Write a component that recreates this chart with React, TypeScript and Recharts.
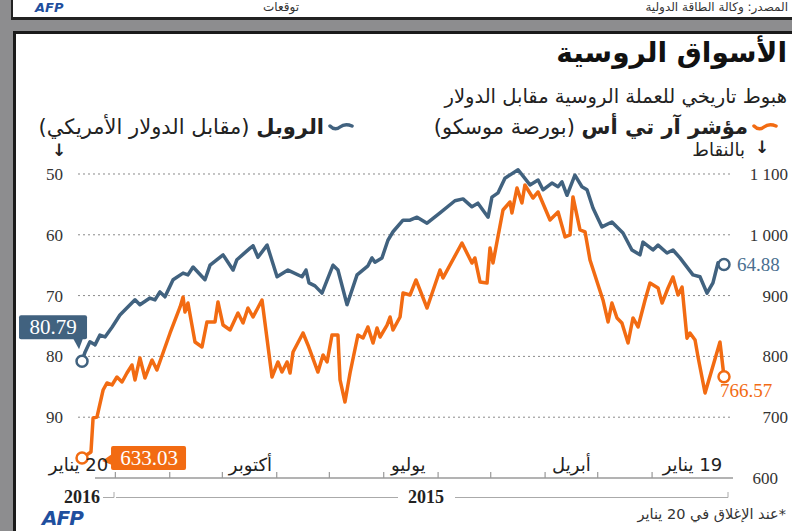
import { LineChart, Line, XAxis, YAxis, ReferenceLine } from "recharts";

// days counted from 19 Jan 2015 (right edge) to 20 Jan 2016 (left edge)
const rubleDays = [
  0, 3.4, 6.3, 9.7, 13.7, 17.7, 25.1, 29.1, 32.5, 37.6, 40.5, 46.2, 47.9, 52.5,
  57.6, 63.9, 69.6, 74.7, 78.1, 81, 85, 89.5, 92.4, 94.6, 98.1, 103.2, 106,
  110.6, 117.4, 124.9, 128.8, 132.3, 134.5, 140.3, 143.7, 148.8, 153.4, 161.9,
  169.3, 175, 179, 183, 188.7, 191.6, 195, 199, 200.7, 203, 209.2, 214.9, 220.1,
  222.9, 229.2, 233.2, 236.6, 238.3, 240.6, 248.6, 254.8, 260.5, 265.7, 268.5,
  270.2, 277.7, 279.9, 285.6, 293, 295.9, 302.7, 305.6, 308.4, 314.1, 318.7,
  321.6, 324.4, 327.3, 333, 335.8, 344.4, 348.9, 352.9, 355.8, 358.6, 361.5,
  364.3, 366,
];
const rubleValues = [
  64.88, 64.6, 67.9, 69.6, 66.9, 66.6, 63.8, 62.5, 63.0, 61.7, 62.5, 61.2, 63.3,
  62.5, 59.7, 57.9, 58.7, 55.6, 52.6, 52.1, 50.2, 53.5, 51.3, 52.1, 51.5, 52.6,
  51.0, 51.8, 49.3, 50.7, 53.1, 53.8, 57.1, 54.8, 55.4, 54.1, 54.4, 56.4, 58.1,
  57.1, 57.6, 57.6, 59.5, 60.9, 63.8, 64.5, 63.8, 65.1, 66.6, 71.5, 65.8, 65.0,
  69.6, 68.4, 67.9, 65.8, 66.9, 65.8, 66.9, 61.7, 63.7, 61.8, 62.2, 64.1, 65.8,
  63.3, 65.0, 67.4, 65.3, 66.6, 66.3, 67.4, 70.2, 69.4, 70.7, 70.4, 71.5, 70.7,
  73.2, 75.2, 76.8, 76.5, 78.1, 77.6, 79.3, 80.79,
];

const rtsDays = [
  0, 2.3, 10.8, 14.8, 16.5, 19.4, 21.1, 23.9, 26.2, 29.1, 31.9, 35.3, 37.6, 42.2,
  45, 49, 51.9, 54.7, 58.2, 61, 63.9, 66.1, 69, 76.4, 79.2, 82.1, 86.1, 87.8,
  90.6, 94.6, 99.2, 106, 108.9, 113.5, 115.2, 118, 120.9, 122, 126, 131.7, 133.4,
  135.1, 139.1, 142, 143.7, 149.4, 160.2, 161.9, 169.3, 175.6, 179, 183, 184.7,
  188.7, 190.4, 192.1, 196.1, 197.8, 200.1, 203, 205.8, 208.7, 213.2, 216.1,
  218.9, 220.1, 223.5, 226.3, 228.6, 231.5, 237.2, 240, 245.7, 247.4, 249.1, 252,
  254.3, 257.7, 263.4, 268.5, 271.4, 274.2, 277.1, 281.6, 285.6, 288.5, 290.2,
  294.8, 297.6, 301.6, 305.6, 307.3, 308.4, 310.1, 315.8, 323.3, 326.1, 330.1,
  333, 335.8, 337.5, 340.4, 343.2, 346.1, 348.9, 351.8, 354, 357.5, 359.7, 360.9,
  366,
];
const rtsValues = [
  766.57, 823.7, 739.8, 799, 827, 838.5, 830, 914, 901, 930.6, 912.5, 887.8,
  912.5, 920.7, 892.8, 848.4, 863.2, 822, 855, 863.2, 887.8, 856.6, 892.8, 958.6,
  1004.6, 1007.9, 1062.2, 999.7, 996.4, 1037.5, 1024.3, 1070.4, 1060.5, 1081.9,
  1052.3, 1077, 1035.9, 1053.9, 1040.8, 953.6, 978.3, 920.7, 922.4, 961.8, 953.6,
  986.5, 929, 942.1, 879.6, 925.7, 901, 904.3, 864.8, 843.4, 864.8, 851.6, 831.9,
  846.7, 822, 848.4, 830.3, 835.2, 772.7, 725, 761.2, 835.2, 835.2, 790.8, 802.3,
  774.3, 818.8, 838.5, 807.2, 772.7, 790.8, 774.3, 790.8, 766.1, 892.8, 864.8,
  879.6, 855, 871.4, 843.4, 851.6, 889.5, 856.6, 856.6, 815.5, 823.7, 887.8, 873,
  897.7, 881.3, 838.5, 777.6, 794.1, 764.5, 797.4, 761.2, 785.9, 772.7, 757.9,
  766.1, 753, 756.3, 744.7, 700.3, 698.7, 642.8, 633.03,
];

const leftTicks = [50, 60, 70, 80, 90];
const rightTicks = [600, 700, 800, 900, 1000, 1100];
const monthTickDays = [41, 72, 102, 133, 163, 194, 225, 255, 286, 316, 347];
const monthLabelDays = [18, 87, 180, 270, 368];
const monthLabels = ["19 يناير", "أبريل", "يوليو", "أكتوبر", "20 يناير"];

const BLUE = "#41627f";
const ORANGE = "#f26b12";
const sans = "'DejaVu Sans', sans-serif";
const serif = "'Liberation Serif', 'DejaVu Serif', serif";

const rubleData = rubleDays.map((d, i) => ({ day: d, ruble: rubleValues[i] }));
const rtsData = rtsDays.map((d, i) => ({ day: d, rts: rtsValues[i] }));

const fmtPoints = (v: number) =>
  v >= 1000 ? `${Math.floor(v / 1000)} ${String(v % 1000).padStart(3, "0")}` : String(v);

const LeftTick = ({ x, y, payload }: any) => (
  <text x={x - 15} y={y + 6} textAnchor="end" fontFamily={serif} fontSize={17} fill="#333">
    {payload.value}
  </text>
);

const RightTick = ({ x, y, payload }: any) => (
  <text
    x={payload.value === 600 ? x + 45 : x + 55}
    y={y + 6}
    textAnchor="end"
    fontFamily={serif}
    fontSize={17}
    fill="#333"
  >
    {fmtPoints(payload.value)}
  </text>
);

const MonthTick = ({ x, y, payload }: any) => {
  const li = monthLabelDays.indexOf(payload.value);
  if (li >= 0) {
    return (
      <text x={x} y={y - 7} textAnchor="middle" direction="rtl" fontFamily={sans} fontSize={18} fill="#222">
        {monthLabels[li]}
      </text>
    );
  }
  return <line x1={x} x2={x} y1={y} y2={y - 6} stroke="#999" strokeWidth={1.2} />;
};

const endCircle = (cx: number, cy: number, color: string) => (
  <circle cx={cx} cy={cy} r={5.5} fill="#fff" stroke={color} strokeWidth={2.5} />
);

const rubleDot = (p: any) => {
  const { cx, cy, index } = p;
  const last = rubleValues.length - 1;
  if (index === 0) {
    return (
      <g key="rdot-first">
        {endCircle(cx, cy, BLUE)}
        <text x={cx + 13} y={cy + 7} fontFamily={serif} fontSize={19} fill="#4a6f90">
          {rubleValues[0].toFixed(2)}
        </text>
      </g>
    );
  }
  if (index === last) {
    return (
      <g key="rdot-last">
        <rect x={cx - 63} y={cy - 46} width={68} height={24} rx={2} fill={BLUE} />
        <path d={`M${cx - 9},${cy - 23} L${cx + 1},${cy - 23} L${cx - 3},${cy - 12} Z`} fill={BLUE} />
        {endCircle(cx, cy, BLUE)}
        <text x={cx - 29} y={cy - 27} textAnchor="middle" fontFamily={serif} fontSize={21} fill="#fff">
          {rubleValues[last].toFixed(2)}
        </text>
      </g>
    );
  }
  return <g key={`rdot-${index}`} />;
};

const rtsDot = (p: any) => {
  const { cx, cy, index } = p;
  const last = rtsValues.length - 1;
  if (index === 0) {
    return (
      <g key="tdot-first">
        {endCircle(cx, cy, ORANGE)}
        <text x={cx - 4} y={cy + 20} fontFamily={serif} fontSize={19} fill={ORANGE}>
          {rtsValues[0].toFixed(2)}
        </text>
      </g>
    );
  }
  if (index === last) {
    return (
      <g key="tdot-last">
        <rect x={cx + 29} y={cy - 12} width={75} height={24} rx={2} fill={ORANGE} />
        <path d={`M${cx + 30},${cy - 4} L${cx + 30},${cy + 7} L${cx + 20},${cy + 3} Z`} fill={ORANGE} />
        {endCircle(cx, cy, ORANGE)}
        <text x={cx + 67} y={cy + 7} textAnchor="middle" fontFamily={serif} fontSize={21} fill="#fff">
          {rtsValues[last].toFixed(2)}
        </text>
      </g>
    );
  }
  return <g key={`tdot-${index}`} />;
};

const Squiggle = ({ color }: { color: string }) => (
  <svg width={26} height={12} style={{ display: "block" }}>
    <path d="M2,5 Q7,10 12,6 T24,5" fill="none" stroke={color} strokeWidth={3.5} strokeLinecap="round" />
  </svg>
);

export default function App() {
  return (
    <div
      style={{
        position: "absolute",
        left: 0,
        top: 0,
        width: 792,
        height: 531,
        background: "#8d8d8f",
        overflow: "hidden",
        fontFamily: sans,
      }}
    >
      {/* bottom of the previous graphic */}
      <div
        style={{
          position: "absolute",
          left: 11,
          top: -20,
          width: 781,
          height: 37,
          background: "#fff",
          borderLeft: "2px solid #222",
          borderBottom: "3px solid #222",
          overflow: "hidden",
        }}
      >
        <div style={{ position: "absolute", left: 22, top: 20, fontSize: 13, lineHeight: "15px", fontWeight: 700, fontStyle: "italic", color: "#1f4f9e" }}>
          AFP
        </div>
        <div style={{ position: "absolute", left: 250, top: 20, fontSize: 12, lineHeight: "15px", color: "#333" }} dir="rtl">
          توقعات
        </div>
        <div style={{ position: "absolute", right: 6, top: 20, fontSize: 12, lineHeight: "15px", color: "#333" }} dir="rtl">
          المصدر: وكالة الطاقة الدولية
        </div>
      </div>

      {/* main panel */}
      <div
        style={{
          position: "absolute",
          left: 13,
          top: 31,
          width: 800,
          height: 520,
          background: "#fff",
          borderLeft: "3px solid #1a1a1a",
          borderTop: "3px solid #1a1a1a",
        }}
      />

      <div style={{ position: "absolute", left: 0, top: 0 }}>
        <LineChart width={792} height={531} margin={{ top: 160, right: 4, bottom: 23, left: 38 }}>
          <XAxis
            dataKey="day"
            type="number"
            domain={[-5.13, 368.3]}
            reversed
            ticks={[...monthTickDays, ...monthLabelDays]}
            interval={0}
            tick={<MonthTick />}
            tickLine={false}
            axisLine={false}
            tickSize={0}
            tickMargin={0}
            height={30}
          />
          <YAxis
            yAxisId="left"
            orientation="left"
            domain={[47.7, 100]}
            reversed
            ticks={leftTicks}
            interval={0}
            tick={<LeftTick />}
            tickLine={false}
            axisLine={false}
            tickSize={0}
            tickMargin={0}
            width={40}
          />
          <YAxis
            yAxisId="right"
            orientation="right"
            domain={[600, 1123]}
            ticks={rightTicks}
            interval={0}
            tick={<RightTick />}
            tickLine={false}
            axisLine={false}
            tickSize={0}
            tickMargin={0}
            width={55}
          />
          {leftTicks.map((v) => (
            <ReferenceLine key={v} yAxisId="left" y={v} stroke="#8a8a8a" strokeDasharray="2 3" strokeWidth={1} />
          ))}
          <ReferenceLine
            yAxisId="right"
            segment={[
              { x: 358.6, y: 600 },
              { x: -5.13, y: 600 },
            ]}
            stroke="#9a9a9a"
            strokeWidth={1.5}
          />
          <Line
            data={rubleData}
            yAxisId="left"
            dataKey="ruble"
            type="linear"
            stroke={BLUE}
            strokeWidth={3.5}
            strokeLinejoin="round"
            dot={rubleDot}
            activeDot={false}
            isAnimationActive={false}
          />
          <Line
            data={rtsData}
            yAxisId="right"
            dataKey="rts"
            type="linear"
            stroke={ORANGE}
            strokeWidth={3.5}
            strokeLinejoin="round"
            dot={rtsDot}
            activeDot={false}
            isAnimationActive={false}
          />
        </LineChart>
      </div>

      {/* titles and legend */}
      <div dir="rtl" style={{ position: "absolute", right: 5, top: 36, fontSize: 28, fontWeight: 700, color: "#111", lineHeight: "34px" }}>
        الأسواق الروسية
      </div>
      <div dir="rtl" style={{ position: "absolute", right: 5, top: 85, fontSize: 19.5, color: "#222", lineHeight: "24px" }}>
        هبوط تاريخي للعملة الروسية مقابل الدولار
      </div>
      <div dir="rtl" style={{ position: "absolute", right: 14, top: 114, fontSize: 21, color: "#222", lineHeight: "26px", display: "flex", alignItems: "center", gap: 4 }}>
        <Squiggle color={ORANGE} />
        <span>
          <b>مؤشر آر تي أس</b> (بورصة موسكو)
        </span>
      </div>
      <div dir="rtl" style={{ position: "absolute", right: 438, top: 114, fontSize: 21, color: "#222", lineHeight: "26px", display: "flex", alignItems: "center", gap: 4 }}>
        <Squiggle color={BLUE} />
        <span>
          <b>الروبل</b> (مقابل الدولار الأمريكي)
        </span>
      </div>
      <div style={{ position: "absolute", left: 52, top: 141, fontSize: 17, fontWeight: 700, color: "#222", lineHeight: "18px" }}>↓</div>
      <div style={{ position: "absolute", left: 755, top: 138, fontSize: 17, fontWeight: 700, color: "#222", lineHeight: "18px" }}>↓</div>
      <div dir="rtl" style={{ position: "absolute", right: 47, top: 140, fontSize: 18, color: "#222", lineHeight: "20px" }}>
        بالنقاط
      </div>

      {/* year brackets under the time axis */}
      <svg width={792} height={531} style={{ position: "absolute", left: 0, top: 0, pointerEvents: "none" }}>
        <g stroke="#aaa" strokeWidth={1}>
          <line x1={103} x2={114} y1={497.5} y2={497.5} />
          <line x1={114} x2={114} y1={492} y2={497.5} />
          <line x1={116} x2={398} y1={497.5} y2={497.5} />
          <line x1={455} x2={728} y1={497.5} y2={497.5} />
          <line x1={728} x2={728} y1={492} y2={497.5} />
        </g>
        <text x={100} y={503} textAnchor="end" fontFamily={serif} fontWeight={700} fontSize={18} fill="#222">
          2016
        </text>
        <text x={426} y={503} textAnchor="middle" fontFamily={serif} fontWeight={700} fontSize={18} fill="#222">
          2015
        </text>
      </svg>

      <div dir="rtl" style={{ position: "absolute", right: 6, top: 506, fontSize: 14.5, color: "#333" }}>
        *عند الإغلاق في 20 يناير
      </div>
      <div style={{ position: "absolute", left: 42, top: 507, fontSize: 20, lineHeight: "22px", fontWeight: 700, fontStyle: "italic", color: "#1f4f9e", letterSpacing: -1 }}>
        AFP
      </div>
    </div>
  );
}
